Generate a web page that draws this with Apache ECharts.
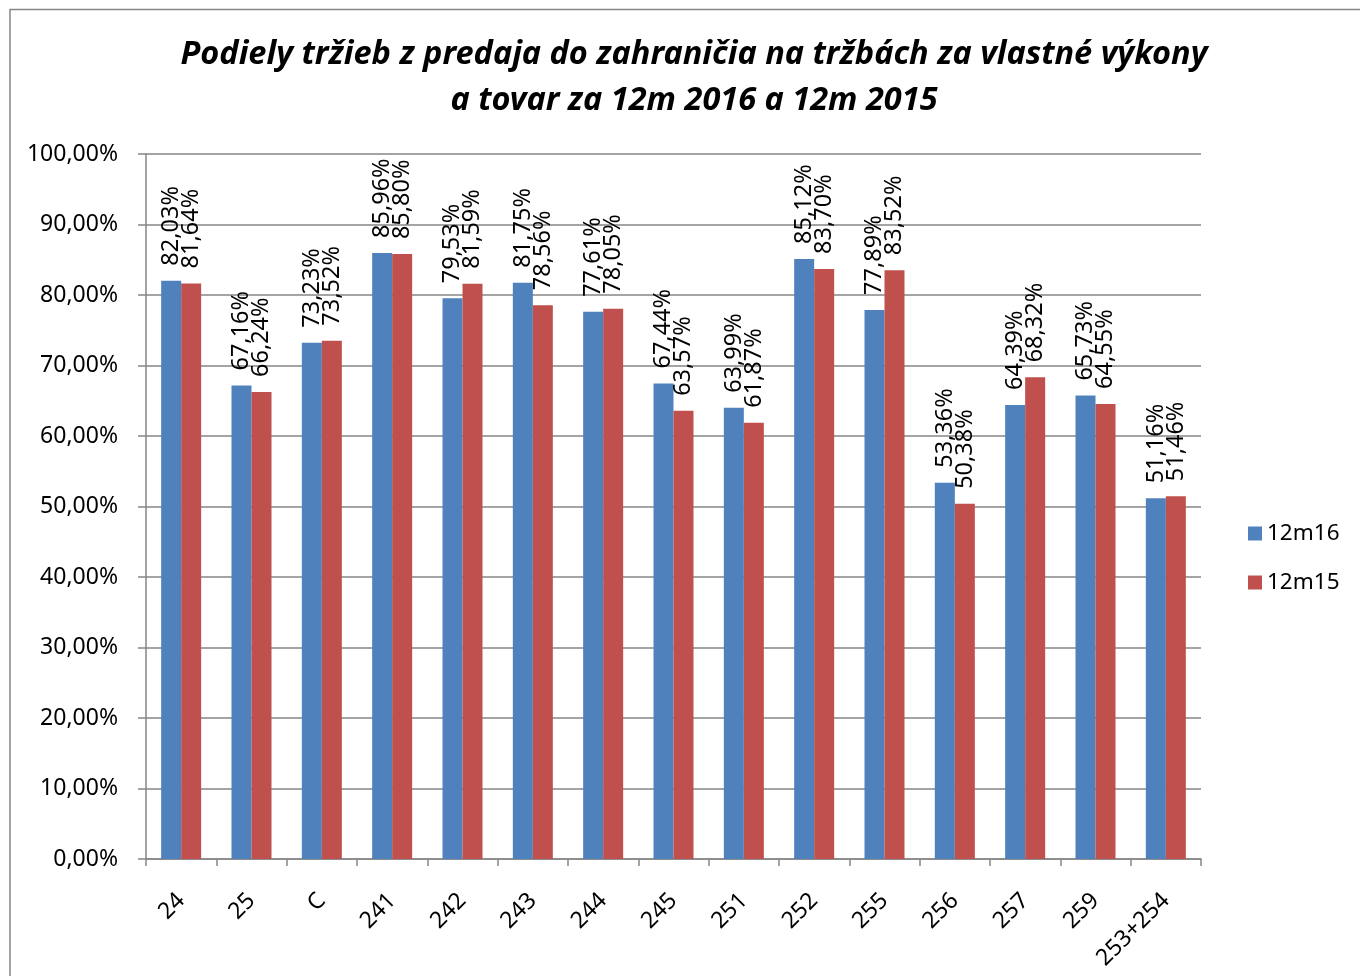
<!DOCTYPE html>
<html>
<head>
<meta charset="utf-8">
<script src="https://cdn.jsdelivr.net/npm/echarts@6/dist/echarts.min.js"></script>
<style>
html,body{margin:0;padding:0;background:#fff;}
#c{width:1360px;height:976px;}
</style>
</head>
<body>
<div id="c"></div>
<script>
const categories = ['24','25','C','241','242','243','244','245','251','252','255','256','257','259','253+254'];
const series12m16 = [82.03, 67.16, 73.23, 85.96, 79.53, 81.75, 77.61, 67.44, 63.99, 85.12, 77.89, 53.36, 64.39, 65.73, 51.16];
const series12m15 = [81.64, 66.24, 73.52, 85.80, 81.59, 78.56, 78.05, 63.57, 61.87, 83.70, 83.52, 50.38, 68.32, 64.55, 51.46];
const yTicks = [0, 10, 20, 30, 40, 50, 60, 70, 80, 90, 100];

const FONT = 'Noto Sans';
const fmt = v => v.toFixed(2).replace('.', ',') + '%';

const chart = echarts.init(document.getElementById('c'));
const labelCfg = {
  show: true,
  position: 'top',
  rotate: 90,
  align: 'left',
  verticalAlign: 'middle',
  distance: 15,
  color: '#000',
  fontFamily: FONT,
  fontSize: 23.5,
  formatter: p => fmt(p.value)
};
chart.setOption({
  animation: false,
  backgroundColor: '#fff',
  title: {
    text: 'Podiely tržieb z predaja do zahraničia na tržbách za vlastné výkony\na tovar za 12m 2016 a 12m 2015',
    left: 689,
    textAlign: 'center',
    top: 27,
    textStyle: {
      fontFamily: FONT,
      fontSize: 32.5,
      fontWeight: 'bold',
      fontStyle: 'italic',
      color: '#000',
      lineHeight: 46
    }
  },
  graphic: [{
    type: 'polyline',
    shape: { points: [[10, 976], [10, 9.5], [1360, 9.5]] },
    style: { stroke: '#868686', lineWidth: 1.5, fill: null },
    silent: true
  }],
  legend: {
    orient: 'vertical',
    left: 1243,
    top: 517,
    itemWidth: 14,
    itemHeight: 14,
    itemGap: 26,
    icon: 'rect',
    textStyle: { fontFamily: FONT, fontSize: 22.5, color: '#000' },
    data: ['12m16', '12m15']
  },
  grid: { left: 146, right: 159, top: 154, bottom: 117, containLabel: false },
  xAxis: {
    type: 'category',
    data: categories,
    axisLine: { lineStyle: { color: '#868686', width: 1.5 } },
    axisTick: { show: true, alignWithLabel: false, length: 7, lineStyle: { color: '#868686', width: 1.5 } },
    axisLabel: {
      rotate: 45,
      interval: 0,
      margin: 38,
      color: '#000',
      fontFamily: FONT,
      fontSize: 23
    }
  },
  yAxis: {
    type: 'value',
    min: 0,
    max: 100,
    interval: 10,
    axisLine: { show: true, lineStyle: { color: '#868686', width: 1.5 } },
    axisTick: { show: true, length: 8, lineStyle: { color: '#868686', width: 1.5 } },
    splitLine: { show: true, lineStyle: { color: '#868686', width: 1.5 } },
    axisLabel: {
      margin: 28,
      color: '#000',
      fontFamily: FONT,
      fontSize: 23,
      formatter: v => yTicks.includes(v) ? v.toFixed(2).replace('.', ',') + '%' : ''
    }
  },
  series: [
    {
      name: '12m16',
      type: 'bar',
      data: series12m16,
      barWidth: 20,
      barGap: '0%',
      itemStyle: { color: '#4F81BD' },
      label: labelCfg
    },
    {
      name: '12m15',
      type: 'bar',
      data: series12m15,
      barWidth: 20,
      barGap: '0%',
      itemStyle: { color: '#C0504D' },
      label: labelCfg
    }
  ]
});
</script>
</body>
</html>
